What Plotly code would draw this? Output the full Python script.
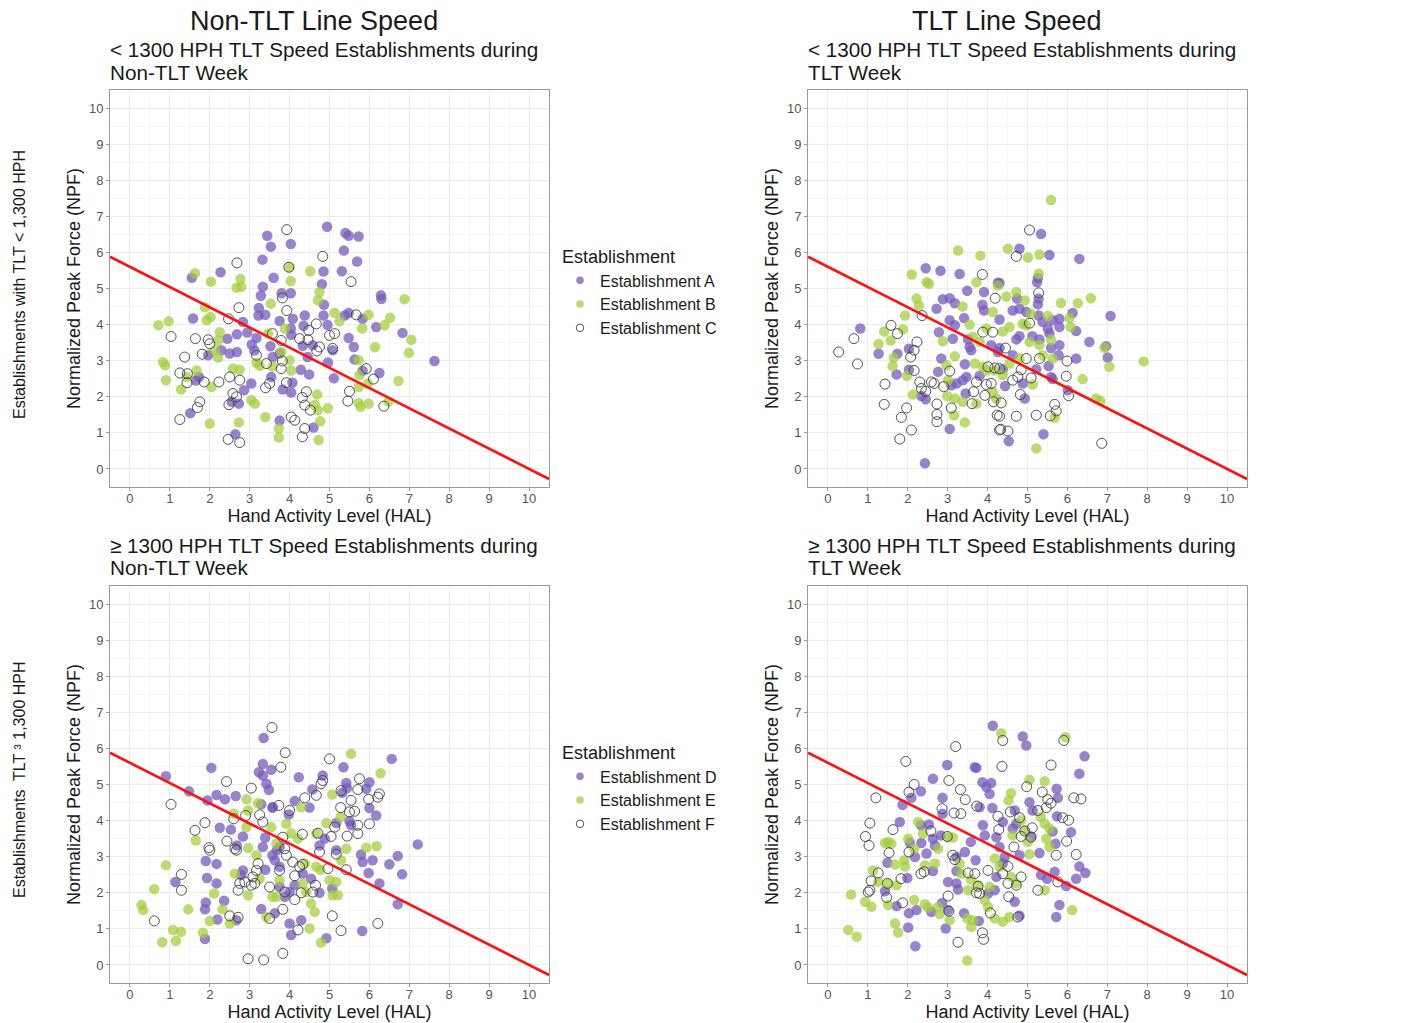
import plotly.graph_objects as go

# ---------------- text ----------------
COL_TITLES = ["Non-TLT Line Speed", "TLT Line Speed"]
ROW_LABELS = ["Establishments with TLT < 1,300 HPH", "Establishments  TLT \u00b3 1,300 HPH"]
PANEL_TITLE_LINES = [
    ("< 1300 HPH TLT Speed Establishments during", "Non-TLT Week"),
    ("< 1300 HPH TLT Speed Establishments during", "TLT Week"),
    ("\u2265 1300 HPH TLT Speed Establishments during", "Non-TLT Week"),
    ("\u2265 1300 HPH TLT Speed Establishments during", "TLT Week"),
]
GROUPS_TOP = ["Establishment A", "Establishment B", "Establishment C"]
GROUPS_BOTTOM = ["Establishment D", "Establishment E", "Establishment F"]
X_TITLE = "Hand Activity Level (HAL)"
Y_TITLE = "Normalized Peak Force (NPF)"
LEGEND_TITLE = "Establishment"
TICKS = list(range(0, 11))

# TLV line: NPF = 5.6 - 0.56 * HAL
TLV_INTERCEPT = 5.6
TLV_SLOPE = -0.56
TLV_HAL = [-0.5, 10.5]

# ---------------- data (HAL, NPF) ----------------
P1_A = [(4.94,6.71),(3.44,6.46),(3.53,6.16),(4.03,6.23),(3.32,5.80),(4.85,5.47),(4.81,5.12),(2.27,5.45),(1.55,5.30),(3.6,5.30),
        (3.33,5.05),(3.28,4.80),(3.8,4.87),(4.03,4.87),(1.58,4.17),(3.23,4.46),(3.22,4.25),(3.39,4.27),(3.75,4.10),(4.08,4.16),
        (4.38,4.25),(4.35,3.97),(4.85,4.25),(4.95,3.99),(2.83,4.07),(2.68,3.73),(2.94,3.78),(2.44,3.61),(3.17,3.63),(3.05,3.45),
        (3.12,3.28),(3.52,3.40),(4.04,3.72),(4.03,3.89),(4.33,3.41),(4.58,3.43),(4.45,3.10),(2.29,3.29),(2.5,3.2),(2.68,3.24),
        (1.96,3.15),(3.58,3.10),(3.75,3.2),(4.96,2.95),(5.11,2.51),(4.28,2.75),(4.49,2.62),(3.54,2.55),(3.04,2.37),(2.86,2.18),
        (2.55,1.86),(2.73,1.81),(1.73,2.55),(1.65,2.45),(3.83,2.20),(4.04,2.12),(4.07,2.39),(1.51,1.54),(3.75,1.34),(4.6,1.15),
        (2.64,0.96),(5.4,6.54),(5.48,6.46),(5.73,6.44),(5.36,6.05),(5.69,5.75),(5.31,5.48),(4.86,4.55),(6.29,4.81),(6.3,4.71),
        (5.38,4.25),(5.48,4.32),(5.83,4.16),(6.17,3.93),(6.83,3.77),(5.48,3.63),(5.61,3.38),(5.08,3.29),(5.63,3.03),(7.63,2.99),
        (5.83,2.72),(6.25,2.66)]
P1_B = [(0.71,3.98),(0.97,4.09),(0.83,2.96),(0.88,2.87),(0.9,2.46),(1.28,2.20),(1.63,5.42),(2.03,5.19),(2.77,5.26),(2.67,5.02),
        (2.79,5.05),(1.88,4.48),(2.02,4.21),(1.92,4.12),(2.25,3.79),(2.21,3.56),(2.13,3.29),(2.21,3.09),(3.17,2.94),(3.25,2.86),
        (2.58,2.78),(2.75,2.75),(1.67,2.73),(1.42,2.55),(2.04,2.27),(3.04,1.91),(3.13,1.81),(2.0,1.26),(2.73,1.29),(3.39,1.44),
        (3.73,1.12),(3.73,0.87),(3.53,4.58),(3.46,3.75),(3.88,3.89),(3.79,3.24),(3.58,2.84),(4.0,3.01),(4.04,2.73),(4.0,5.59),
        (4.03,5.21),(4.52,5.48),(4.75,4.9),(4.71,4.67),(5.13,4.32),(4.69,2.06),(4.63,1.77),(4.71,1.63),(4.96,1.68),(4.77,1.32),
        (4.73,0.80),(5.25,4.09),(5.98,4.27),(5.82,3.89),(6.52,4.19),(6.38,3.98),(6.88,4.70),(7.05,3.58),(6.99,3.22),(6.14,3.37),
        (5.73,3.01),(5.75,2.6),(5.96,2.37),(5.73,2.27),(6.73,2.44),(5.73,1.83),(5.78,1.72),(5.98,1.81),(6.48,1.87)]
P1_C = [(3.93,6.63),(4.83,5.89),(2.68,5.71),(3.98,5.59),(3.82,4.74),(2.73,4.47),(3.93,4.39),(2.47,4.16),(1.03,3.67),(1.64,3.61),
        (1.96,3.58),(2.0,3.47),(1.81,3.18),(1.37,3.10),(1.25,2.66),(1.44,2.64),(1.43,2.39),(1.86,2.41),(2.23,2.41),(2.5,2.55),
        (2.75,2.46),(1.75,1.86),(1.69,1.70),(1.25,1.37),(2.46,0.82),(2.75,0.73),(2.58,2.09),(2.67,2.0),(2.48,1.78),(3.17,3.15),
        (3.42,2.92),(3.4,2.25),(3.5,2.37),(3.57,3.75),(3.79,3.56),(3.82,2.99),(3.79,2.78),(3.92,2.39),(4.25,3.61),(4.46,3.58),
        (4.48,3.84),(4.67,4.02),(4.75,3.38),(4.68,3.27),(5.0,3.70),(5.08,3.34),(4.42,2.14),(4.32,1.98),(4.38,1.77),(4.52,1.63),
        (4.04,1.44),(4.13,1.35),(4.38,1.12),(4.32,0.89),(5.54,5.19),(5.67,4.27),(5.13,3.75),(5.92,2.78),(6.1,2.49),(5.5,2.15),
        (5.46,1.88),(6.36,1.74)]

P2_A = [(2.45,5.56),(2.82,5.49),(3.3,5.40),(3.49,4.94),(2.88,4.70),(3.05,4.73),(3.18,4.59),(2.72,4.44),(3.91,4.90),(3.87,4.55),
        (3.91,4.39),(4.26,5.16),(3.41,4.18),(3.05,4.12),(3.18,3.98),(2.78,3.79),(3.13,3.61),(3.51,3.59),(3.55,3.38),(3.59,3.29),
        (4.09,3.43),(4.26,3.24),(0.81,3.89),(1.27,3.19),(1.74,3.19),(2.03,3.33),(1.72,2.62),(2.03,2.75),(2.84,3.06),(2.76,2.69),
        (3.43,2.90),(3.8,2.58),(3.47,2.55),(3.38,2.46),(3.09,2.32),(3.22,2.37),(3.45,2.09),(2.34,2.02),(2.45,1.93),(3.05,1.11),
        (2.43,0.16),(5.34,6.51),(4.8,6.10),(5.55,5.93),(6.3,5.82),(4.3,5.15),(5.26,5.29),(5.24,5.17),(5.28,4.72),(5.26,4.56),
        (4.74,4.72),(4.63,4.39),(4.8,4.44),(4.97,4.35),(4.3,4.14),(5.28,4.25),(5.38,4.07),(5.63,4.12),(5.8,4.16),(6.13,4.32),
        (5.51,3.89),(5.8,3.93),(6.22,3.82),(7.08,4.24),(4.72,3.59),(4.8,3.68),(5.12,3.68),(5.3,3.59),(5.55,3.75),(6.55,3.52),
        (6.97,3.40),(7.01,3.09),(5.59,3.35),(5.8,3.43),(5.78,3.15),(6.22,3.06),(4.3,3.35),(4.38,2.76),(4.63,3.15),(5.22,2.76),
        (5.53,2.85),(5.59,2.55),(5.63,2.49),(4.88,2.37),(4.44,2.30),(4.93,1.95),(6.01,2.18),(5.4,0.96),(4.53,0.77)]
P2_B = [(3.26,6.05),(3.82,5.91),(2.1,5.39),(2.47,5.17),(2.53,5.13),(3.72,5.17),(2.22,4.72),(2.28,4.53),(1.93,4.25),(1.41,3.81),
        (1.88,3.87),(1.57,3.56),(1.27,3.46),(1.65,3.08),(1.62,2.85),(1.98,2.58),(3.37,4.50),(3.55,4.0),(4.13,4.35),(2.88,3.54),
        (3.18,3.12),(2.97,2.87),(3.68,2.92),(3.88,2.83),(3.97,2.73),(3.63,3.66),(3.8,3.52),(3.97,3.89),(3.01,2.46),(2.13,2.06),
        (2.99,2.02),(3.18,1.95),(3.38,1.86),(3.72,1.81),(3.16,1.49),(3.43,1.29),(5.59,7.45),(4.51,6.10),(5.01,5.86),(5.3,5.94),
        (5.28,5.41),(4.26,5.08),(4.72,4.90),(4.47,4.78),(4.93,4.67),(5.09,4.30),(5.84,4.60),(6.26,4.59),(6.59,4.73),(5.51,4.24),
        (6.05,4.18),(4.38,3.81),(4.55,3.93),(4.88,4.02),(4.97,3.98),(6.08,3.93),(5.05,3.52),(5.3,3.43),(5.59,3.58),(5.38,3.15),
        (5.63,3.06),(6.93,3.36),(7.05,2.83),(7.91,2.98),(4.55,2.92),(4.8,3.06),(4.38,2.60),(4.18,2.73),(5.13,2.34),(6.38,2.49),
        (4.13,2.14),(4.22,1.95),(6.72,1.95),(6.83,1.88),(5.68,1.42),(5.22,0.57)]
P2_C = [(3.87,5.39),(4.19,4.73),(2.36,4.25),(1.58,3.98),(1.74,3.75),(0.65,3.61),(0.27,3.24),(0.74,2.91),(2.23,3.52),(2.16,3.29),
        (2.07,3.10),(2.16,2.73),(1.43,2.35),(1.41,1.79),(1.97,1.69),(1.84,1.43),(2.09,1.08),(1.8,0.83),(2.3,2.41),(2.34,2.23),
        (2.59,2.41),(2.66,2.37),(2.45,2.15),(2.73,1.80),(2.73,1.51),(2.73,1.31),(2.9,2.28),(3.05,2.71),(3.09,1.69),(3.61,1.81),
        (3.65,2.14),(3.72,2.41),(3.97,2.34),(4.09,2.37),(3.93,2.04),(4.15,1.86),(3.88,3.79),(4.13,3.79),(4.01,2.83),(4.18,2.80),
        (4.24,1.49),(4.3,1.08),(5.05,6.62),(4.72,5.89),(5.28,4.88),(5.05,4.04),(4.97,3.06),(5.3,3.06),(5.99,2.99),(4.45,3.35),
        (4.3,2.78),(4.84,2.75),(4.63,2.46),(4.76,2.55),(5.09,2.52),(5.97,2.57),(6.03,2.03),(4.82,2.06),(4.34,1.83),(4.3,1.46),
        (4.72,1.46),(5.22,1.49),(5.57,1.47),(5.68,1.79),(5.72,1.61),(4.33,1.1),(4.51,1.05),(6.86,0.71)]

P3_D = [(3.35,6.29),(0.9,5.23),(2.04,5.46),(1.48,4.81),(1.94,4.56),(2.17,4.71),(2.38,4.59),(2.65,4.68),(3.33,5.57),(3.23,5.34),
        (3.33,5.25),(3.54,5.41),(3.42,5.02),(3.48,4.85),(3.29,4.45),(3.57,4.36),(2.25,3.80),(2.53,3.75),(2.83,3.56),(2.68,3.31),
        (3.39,3.53),(3.33,3.27),(3.57,3.04),(3.68,3.18),(1.9,2.88),(2.17,2.80),(3.39,2.64),(2.83,2.62),(2.79,2.49),(1.14,2.30),
        (1.93,2.41),(2.17,2.26),(1.9,1.73),(1.88,1.54),(2.36,1.78),(2.19,1.26),(2.67,1.24),(1.88,0.72),(3.29,1.55),(3.63,1.43),
        (6.56,5.71),(5.35,5.48),(4.23,5.2),(4.83,5.25),(5.42,5.04),(5.44,4.90),(5.32,4.77),(6.0,5.06),(5.92,4.88),(4.57,4.86),
        (4.13,4.54),(4.5,4.36),(3.98,4.17),(3.58,4.37),(6.0,4.35),(6.17,4.14),(5.5,3.99),(5.54,3.87),(5.17,3.93),(4.88,3.50),
        (4.75,3.31),(5.17,3.18),(5.79,3.06),(5.83,2.85),(6.08,2.90),(7.21,3.34),(6.71,3.02),(6.5,2.79),(6.82,2.51),(5.98,2.55),
        (6.25,2.26),(6.71,1.68),(3.75,3.27),(3.63,2.90),(3.75,2.72),(4.33,2.53),(4.54,2.39),(5.07,2.12),(4.75,2.0),(3.75,2.16),
        (3.88,1.89),(4.13,2.21),(4.0,2.02),(4.0,1.15),(4.29,1.24),(4.04,0.83),(4.92,0.74),(5.82,0.94)]
P3_E = [(2.92,4.59),(3.21,4.48),(2.96,4.28),(2.6,4.19),(2.92,3.82),(1.65,3.45),(2.96,3.24),(3.17,3.04),(0.9,2.76),(0.61,2.10),
        (0.29,1.66),(0.33,1.52),(1.46,1.54),(1.08,0.97),(1.28,0.92),(0.81,0.63),(1.15,0.67),(2.0,1.22),(1.83,0.89),(2.11,1.98),
        (2.32,1.54),(2.5,1.15),(2.63,2.53),(2.96,1.93),(3.25,2.39),(3.57,1.89),(3.42,1.33),(3.54,3.82),(3.67,3.36),(5.54,5.85),
        (6.28,5.31),(5.07,4.72),(4.29,4.37),(5.28,4.10),(3.92,3.91),(4.04,3.65),(4.21,3.50),(4.67,3.64),(4.92,3.93),(5.42,3.22),
        (5.92,3.25),(6.18,3.29),(5.29,2.90),(4.38,2.81),(4.67,2.72),(4.77,2.64),(5.0,2.35),(5.17,2.30),(5.08,1.93),(5.21,1.93),
        (4.33,2.26),(4.42,2.02),(4.54,1.70),(4.63,1.47),(4.5,1.01),(4.79,0.62),(3.75,2.35),(3.67,1.89)]
P3_F = [(3.56,6.58),(2.42,5.08),(3.04,4.90),(1.03,4.45),(1.88,3.94),(1.63,3.73),(2.6,4.05),(2.9,4.14),(3.25,4.16),(3.33,3.96),
        (2.43,3.43),(2.63,3.22),(2.67,3.18),(1.98,3.25),(2.0,3.18),(1.29,2.51),(1.29,2.07),(3.21,2.81),(3.17,2.62),(3.08,2.44),
        (2.75,2.26),(2.88,2.30),(2.71,2.07),(3.04,2.21),(3.13,2.26),(3.5,2.16),(0.61,1.22),(2.5,1.36),(2.71,1.32),(3.5,1.29),
        (2.96,0.17),(3.35,0.14),(3.89,5.88),(5.0,5.71),(3.78,5.48),(4.83,5.11),(4.79,5.02),(5.75,5.16),(5.71,4.86),(6.25,4.74),
        (6.21,4.65),(5.98,4.59),(5.29,4.83),(5.54,4.56),(4.38,4.63),(4.67,4.70),(5.28,4.36),(5.5,4.24),(5.63,4.26),(4.0,4.28),
        (3.73,4.42),(6.0,3.91),(5.71,3.87),(5.71,3.64),(5.44,3.57),(5.13,3.82),(5.04,3.56),(4.71,3.65),(4.75,3.13),(4.32,3.62),
        (3.83,3.54),(3.88,3.22),(3.92,3.04),(4.08,2.85),(4.33,2.79),(4.25,2.72),(3.75,2.62),(4.13,2.47),(4.96,2.67),(5.42,2.64),
        (5.17,3.07),(4.65,2.21),(4.58,2.02),(4.29,2.0),(3.88,2.02),(4.13,1.81),(3.83,1.54),(5.07,1.36),(4.21,0.97),(5.29,0.95),
        (6.21,1.15),(3.83,0.32)]

P4_D = [(2.99,5.54),(2.63,5.16),(3.68,5.48),(2.33,4.81),(2.09,4.63),(1.87,4.44),(2.87,4.63),(2.87,4.19),(1.8,3.96),(2.33,3.87),
        (2.53,3.89),(2.05,3.39),(2.34,3.38),(2.63,3.50),(2.83,3.59),(2.18,2.99),(2.47,3.09),(2.68,3.31),(3.58,3.41),(3.43,3.13),
        (3.22,2.99),(1.49,2.83),(2.63,2.60),(3.22,2.60),(1.99,2.41),(1.43,2.04),(3.01,2.30),(3.22,2.26),(3.26,2.09),(1.72,1.63),
        (2.03,1.43),(2.22,1.52),(2.59,1.47),(2.86,1.72),(3.01,1.52),(3.41,1.43),(2.01,1.04),(2.95,1.01),(2.19,0.52),(4.13,6.63),
        (4.88,6.33),(4.97,6.08),(6.43,5.78),(6.3,5.30),(3.72,5.46),(3.87,5.06),(3.97,4.93),(4.05,4.74),(4.09,5.04),(5.73,4.88),
        (5.76,4.63),(5.05,4.51),(5.13,4.28),(4.68,4.28),(3.8,4.37),(4.12,4.35),(4.38,3.96),(4.63,3.78),(4.72,3.91),(5.74,4.12),
        (5.63,3.70),(6.09,3.68),(3.88,3.87),(3.93,3.59),(4.22,3.54),(5.09,3.56),(5.7,3.36),(5.3,3.10),(4.3,3.27),(4.43,2.99),
        (4.38,2.81),(4.8,3.04),(3.7,2.90),(6.3,2.73),(6.45,2.55),(6.22,2.39),(5.34,2.49),(5.49,2.39),(5.68,2.58),(5.97,2.19),
        (4.22,2.44),(4.01,1.98),(4.18,2.07),(4.68,1.75),(5.8,1.66),(5.72,1.33),(4.8,1.36),(3.78,1.22)]
P4_E = [(2.26,3.96),(2.38,3.64),(1.51,3.41),(1.43,3.38),(1.59,3.36),(2.01,3.50),(1.68,2.78),(1.91,2.90),(1.93,2.73),(2.16,3.22),
        (2.43,2.76),(2.68,2.81),(2.76,3.22),(3.01,3.54),(3.13,3.53),(3.3,2.81),(3.34,2.53),(1.13,2.62),(1.26,2.30),(1.51,2.26),
        (1.72,2.21),(0.58,1.95),(0.93,1.75),(1.09,1.61),(1.51,1.66),(2.16,1.80),(2.43,1.68),(2.51,1.59),(2.76,1.61),(2.8,1.41),
        (3.05,1.24),(1.68,1.15),(1.76,0.90),(0.51,0.97),(0.72,0.78),(3.49,0.12),(3.59,2.37),(3.51,2.07),(3.76,2.21),(3.49,1.29),
        (3.59,1.06),(4.34,6.42),(5.95,6.31),(5.05,5.13),(5.43,5.09),(4.59,4.76),(4.53,4.56),(5.33,4.10),(5.43,3.91),(5.55,3.78),
        (4.84,4.01),(4.93,3.73),(5.01,3.41),(5.47,3.50),(5.55,3.27),(4.63,3.59),(4.18,2.95),(4.3,2.72),(5.05,3.07),(4.59,2.44),
        (4.72,2.26),(5.43,2.07),(4.05,2.16),(3.93,1.80),(4.01,1.61),(4.18,1.29),(4.38,1.20),(4.55,1.33),(6.12,1.52),(3.63,1.24)]
P4_F = [(3.2,6.05),(1.95,5.64),(2.16,5.0),(2.03,4.79),(3.03,5.11),(3.32,4.86),(3.44,4.58),(1.2,4.63),(2.86,4.33),(3.16,4.21),
        (3.33,4.19),(1.05,3.93),(0.94,3.56),(1.03,3.31),(1.63,3.75),(2.58,3.71),(2.99,3.56),(1.53,3.11),(2.03,3.13),(3.13,3.04),
        (3.18,2.92),(1.26,2.55),(1.08,2.33),(1.01,2.02),(1.05,2.07),(1.83,2.39),(1.49,2.26),(1.47,1.87),(2.33,2.53),(2.41,2.58),
        (1.87,1.72),(3.01,1.91),(3.51,2.55),(3.68,2.53),(3.03,1.49),(3.26,0.63),(4.38,6.22),(5.91,6.22),(4.36,5.50),(5.59,5.54),
        (4.98,4.94),(5.37,4.79),(5.51,4.58),(5.59,4.48),(6.16,4.63),(6.34,4.60),(3.73,4.40),(4.26,4.12),(4.57,4.24),(4.8,4.08),
        (5.26,4.28),(5.47,4.36),(5.88,4.08),(6.03,4.01),(4.28,3.75),(4.93,3.71),(5.12,3.80),(4.84,3.56),(5.09,3.54),(5.98,3.43),
        (5.72,3.04),(6.22,3.06),(4.66,3.27),(4.51,2.73),(4.38,2.53),(4.84,2.44),(4.72,2.21),(4.51,2.26),(4.01,2.62),(3.76,2.18),
        (3.72,2.0),(3.8,1.98),(5.26,2.07),(5.76,2.30),(4.53,1.89),(4.76,1.33),(4.07,1.44),(3.87,0.89),(3.9,0.71)]

# ---------------- layout geometry ----------------
W, H = 1424, 1023
def xd(a, b):
    return [a / W, b / W]
def yd(top, bottom):
    return [1 - bottom / H, 1 - top / H]

X_DOMS = [xd(110, 549), xd(808, 1247)]
Y_DOMS = [yd(90, 487), yd(586, 983)]

PURPLE = "rgba(120,92,188,0.76)"
GREEN = "rgba(162,206,60,0.72)"
OPEN = "#404040"
FONT = "Liberation Sans, Arial, sans-serif"
TXT = "#1a1a1a"

def point_styles(size_fill, size_open):
    return [
        dict(color=PURPLE, size=size_fill, line=dict(width=0)),
        dict(color=GREEN, size=size_fill, line=dict(width=0)),
        dict(color=OPEN, size=size_open, symbol="circle-open", line=dict(width=0.9)),
    ]

panels = [
    (P1_A, P1_B, P1_C),
    (P2_A, P2_B, P2_C),
    (P3_D, P3_E, P3_F),
    (P4_D, P4_E, P4_F),
]

fig = go.Figure()
tlv_npf = [TLV_INTERCEPT + TLV_SLOPE * h for h in TLV_HAL]

for i, groups in enumerate(panels):
    ax = "" if i == 0 else str(i + 1)
    xref, yref = "x" + ax, "y" + ax
    for data, st in zip(groups, point_styles(10.5, 10)):
        fig.add_trace(go.Scatter(x=[p[0] for p in data], y=[p[1] for p in data], mode="markers", marker=st,
                                 xaxis=xref, yaxis=yref, showlegend=False))
    fig.add_trace(go.Scatter(x=TLV_HAL, y=tlv_npf, mode="lines", line=dict(color="#FF1010", width=2.6),
                             xaxis=xref, yaxis=yref, showlegend=False, hoverinfo="skip"))

# legend entries (small key symbols like the reference)
for names, leg in ((GROUPS_TOP, "legend"), (GROUPS_BOTTOM, "legend2")):
    for name, st in zip(names, point_styles(7.5, 7.5)):
        fig.add_trace(go.Scatter(x=[None], y=[None], mode="markers", name=name, marker=st,
                                 legend=leg, showlegend=True, xaxis="x", yaxis="y"))

axis_common = dict(
    range=[-0.5, 10.5], tickvals=TICKS, showgrid=True, gridcolor="#ECECEC", gridwidth=1,
    minor=dict(dtick=0.5, showgrid=True, gridcolor="#F6F6F6", gridwidth=0.6),
    zeroline=False, showline=True, mirror=True, linecolor="#9A9A9A", linewidth=1,
    ticks="outside", ticklen=3, tickcolor="#9A9A9A", tickwidth=1,
    tickfont=dict(family=FONT, size=13, color="#555555"),
)
layout = dict(
    width=W, height=H, margin=dict(l=0, r=0, t=0, b=0),
    paper_bgcolor="white", plot_bgcolor="white",
    font=dict(family=FONT, color=TXT),
    showlegend=True,
)
for i in range(4):
    ax = "" if i == 0 else str(i + 1)
    col, row = i % 2, i // 2
    layout["xaxis" + ax] = dict(axis_common, domain=X_DOMS[col], anchor="y" + ax, ticklabelstandoff=-4,
                                title=dict(text=X_TITLE, font=dict(size=18, color=TXT), standoff=1))
    layout["yaxis" + ax] = dict(axis_common, domain=Y_DOMS[row], anchor="x" + ax,
                                title=dict(text=Y_TITLE, font=dict(size=18, color=TXT), standoff=3))

leg_common = dict(
    bgcolor="rgba(0,0,0,0)", borderwidth=0, xanchor="left", yanchor="top",
    font=dict(size=16, color=TXT), itemsizing="trace", tracegroupgap=0, itemwidth=30,
)
layout["legend"] = dict(leg_common, x=560 / W, y=1 - 240 / H,
                        title=dict(text=LEGEND_TITLE, font=dict(size=18, color=TXT)))
layout["legend2"] = dict(leg_common, x=560 / W, y=1 - 736 / H,
                         title=dict(text=LEGEND_TITLE, font=dict(size=18, color=TXT)))
fig.update_layout(**layout)

ann = []
for txt, cx in zip(COL_TITLES, (314, 1007)):
    ann.append(dict(text=txt, x=cx / W, y=1 - 21 / H, xref="paper", yref="paper",
                    xanchor="center", yanchor="middle", showarrow=False, font=dict(size=27, color=TXT)))
for txt, cy in zip(ROW_LABELS, (285, 780)):
    ann.append(dict(text=txt, x=19 / W, y=1 - cy / H, xref="paper", yref="paper", textangle=-90,
                    xanchor="center", yanchor="middle", showarrow=False, font=dict(size=16, color=TXT)))
panel_pos = [(108, 50), (806, 50), (108, 545), (806, 545)]
for (l1, l2), (px, py) in zip(PANEL_TITLE_LINES, panel_pos):
    ann.append(dict(text=l1, x=px / W, y=1 - py / H, xref="paper", yref="paper",
                    xanchor="left", yanchor="middle", showarrow=False, font=dict(size=20.7, color=TXT)))
    ann.append(dict(text=l2, x=px / W, y=1 - (py + 22) / H, xref="paper", yref="paper",
                    xanchor="left", yanchor="middle", showarrow=False, font=dict(size=20.7, color=TXT)))
fig.update_layout(annotations=ann)

fig.write_html("out.html")
